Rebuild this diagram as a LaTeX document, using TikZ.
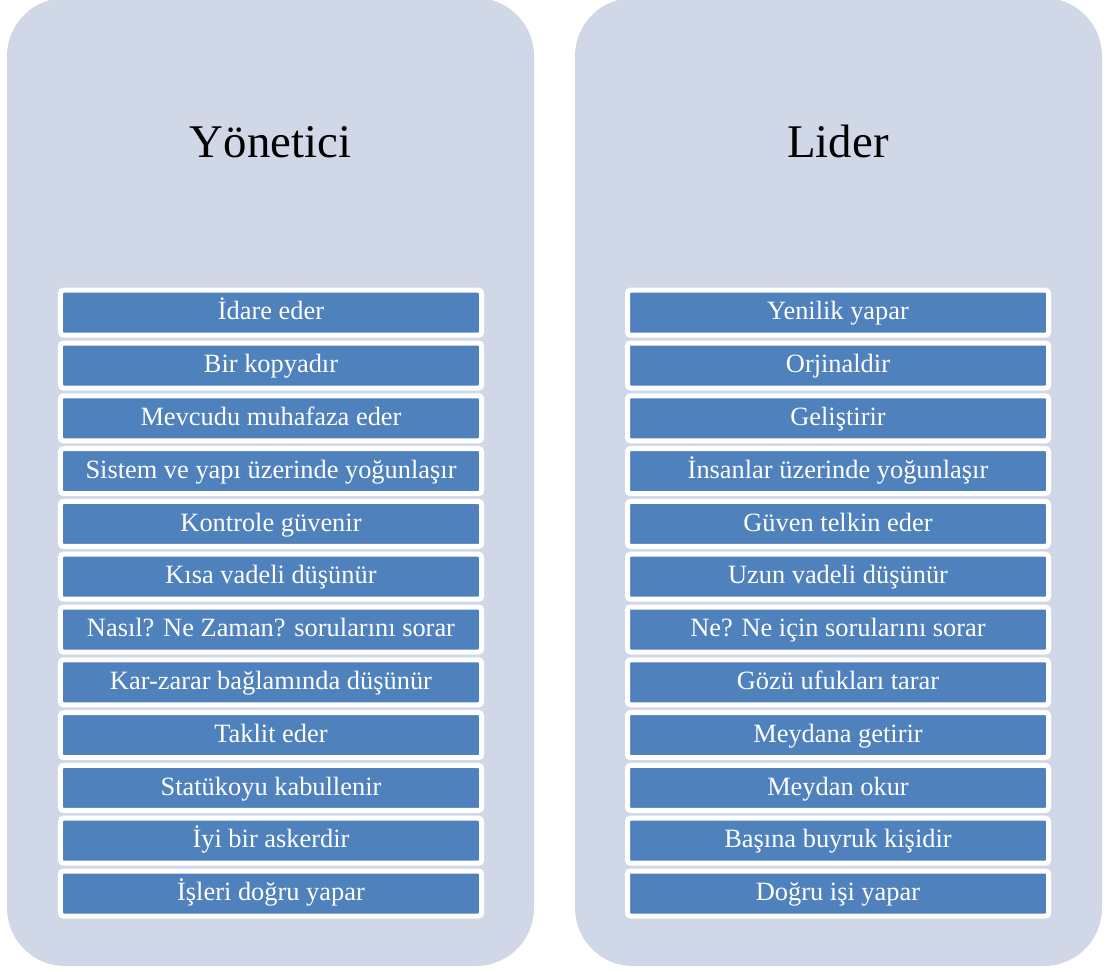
\documentclass[tikz,border=0pt]{standalone}
\usepackage{fontspec}
\setmainfont{Liberation Serif}
\definecolor{panelc}{HTML}{D0D8E8}
\definecolor{boxc}{HTML}{4F81BD}
\begin{document}
\begin{tikzpicture}[x=1bp,y=-1bp,
  item/.style={draw=white,line width=5bp,fill=boxc,rounded corners=3bp,
    minimum width=421bp,minimum height=45bp,inner sep=0pt,text=white,
    text height=18.5bp,text depth=4bp,
    font=\fontsize{26.5}{28}\selectfont},
  title/.style={font=\fontsize{47}{50}\selectfont,text=black,anchor=base,inner sep=0pt}]
\useasboundingbox (0,0) rectangle (1107,972);
\fill[panelc,rounded corners=58bp] (7,-2) rectangle (534,966);
\fill[panelc,rounded corners=58bp] (575,-2) rectangle (1102,966);
\node[title] (t1) at (270.5,157.5) {Yönetici};
\node[title] (t2) at (838,157.5) {Lider};
\foreach \i/\a/\b in {
 0/{İdare eder}/{Yenilik yapar},
 1/{Bir kopyadır}/{Orjinaldir},
 2/{Mevcudu muhafaza eder}/{Geliştirir},
 3/{Sistem ve yapı üzerinde yoğunlaşır}/{İnsanlar üzerinde yoğunlaşır},
 4/{Kontrole güvenir}/{Güven telkin eder},
 5/{Kısa vadeli düşünür}/{Uzun vadeli düşünür},
 6/{Nasıl? Ne Zaman? sorularını sorar}/{Ne? Ne için sorularını sorar},
 7/{Kar-zarar bağlamında düşünür}/{Gözü ufukları tarar},
 8/{Taklit eder}/{Meydana getirir},
 9/{Statükoyu kabullenir}/{Meydan okur},
 10/{İyi bir askerdir}/{Başına buyruk kişidir},
 11/{İşleri doğru yapar}/{Doğru işi yapar}}{
  \node[item] (l\i) at (271,312.7+52.8*\i) {\a};
  \node[item] (r\i) at (838,312.7+52.8*\i) {\b};
}
\end{tikzpicture}
\end{document}
